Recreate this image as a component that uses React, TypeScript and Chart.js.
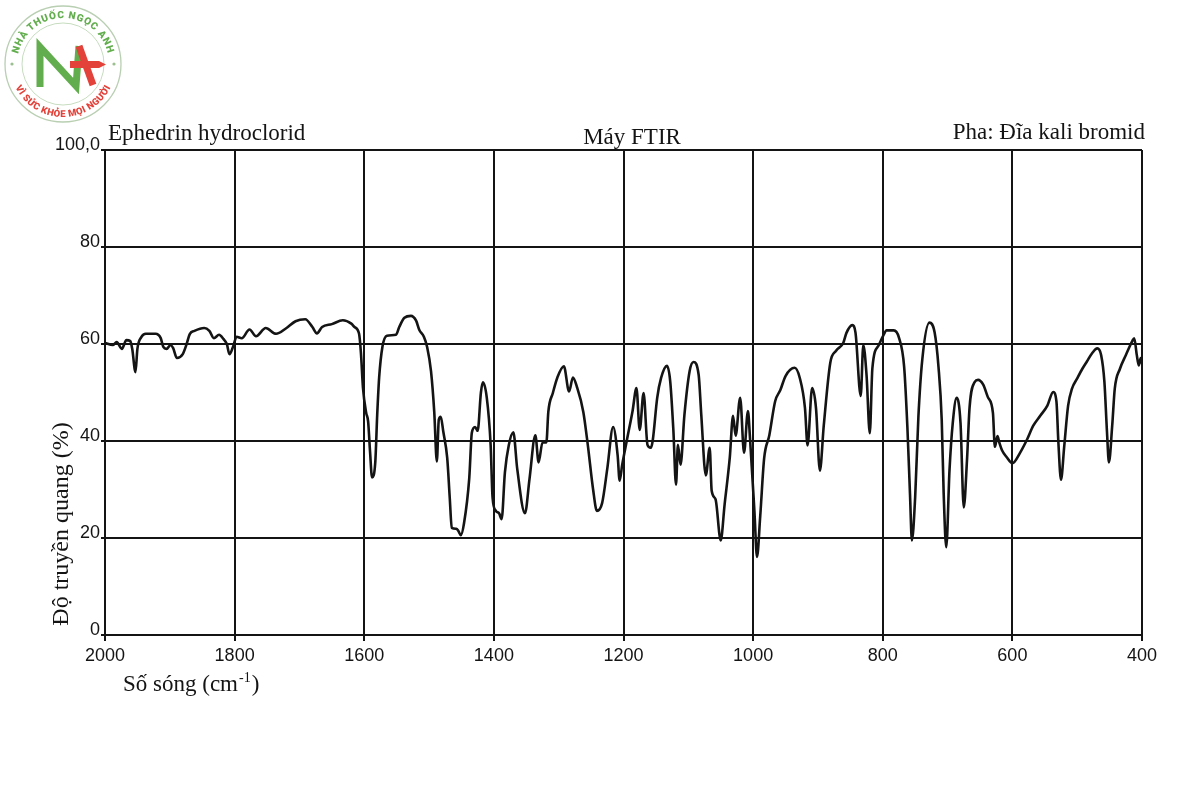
import React, { useEffect, useRef } from "react";
import { Chart, registerables } from "chart.js";

Chart.register(...registerables);

// Wavenumber (cm-1)
const wavenumbers = [
  2000, 1988, 1982, 1974, 1967, 1961, 1958, 1953, 1950, 1944, 1937, 1922, 1914, 1910, 1905, 1899, 1895, 1889,
  1880, 1875, 1869, 1862, 1847, 1839, 1832, 1824, 1817, 1812, 1808, 1802, 1797, 1789, 1777, 1767, 1752, 1736,
  1721, 1706, 1691, 1680, 1673, 1665, 1650, 1633, 1620,
  1615, 1608, 1605, 1602, 1597, 1594, 1591, 1588, 1583, 1580, 1577, 1572, 1565, 1551, 1546, 1538, 1528, 1520,
  1515, 1508, 1503, 1497, 1492, 1488, 1485, 1482, 1478, 1472, 1468, 1465, 1458, 1455, 1451, 1446, 1438, 1434,
  1429, 1425, 1420, 1417, 1411, 1405, 1402,
  1397, 1392, 1388, 1383, 1377, 1370, 1364, 1352, 1345, 1336, 1331, 1325, 1319, 1316, 1309, 1302, 1292, 1284,
  1278, 1272, 1262, 1255, 1247, 1241, 1233, 1225, 1216, 1209, 1206,
  1202, 1194, 1186, 1180, 1175, 1169, 1163, 1158, 1155, 1148, 1142, 1133, 1128, 1123, 1119, 1116, 1112, 1106,
  1098, 1092, 1084, 1080, 1073, 1067, 1064, 1058, 1050, 1044, 1036, 1031, 1027, 1020, 1014, 1008, 1005,
  998, 994, 989, 983, 975, 966, 958, 950, 936, 928, 920, 916, 909, 903, 897, 891, 881, 872, 861, 856, 847, 842,
  834, 830, 825, 820, 816, 806,
  800, 794, 783, 775, 767, 762, 758, 755, 750, 745, 739, 728, 720, 714, 709, 706, 702, 697, 692, 686, 680, 675,
  670, 666, 658, 653, 645, 638, 630, 627, 623, 620, 616, 609, 600,
  588, 577, 568, 557, 546, 537, 532, 529, 525, 520, 514, 508, 500, 492, 485, 477, 469, 463, 458, 454, 451, 446,
  442, 434, 425, 415, 412, 408, 405, 402, 400,
];

// Transmittance (%)
const transmittance = [
  60.2, 59.8, 60.4, 59.0, 60.8, 60.6, 59.0, 54.2, 59.0, 61.4, 62.1, 62.1, 61.2, 59.4, 59.0, 59.8, 59.2, 57.1,
  57.9, 59.6, 62.1, 62.7, 63.3, 62.7, 61.2, 61.9, 61.0, 60.0, 57.9, 59.6, 61.5, 61.2, 63.0, 61.6, 63.3, 62.1,
  63.2, 64.7, 65.1, 63.5, 62.2, 63.5, 64.1, 64.9, 64.2,
  63.5, 62.1, 57.9, 51.0, 45.8, 44.0, 37.7, 32.5, 35.6, 45.4, 53.1, 59.4, 61.7, 61.9, 63.5, 65.4, 65.8, 64.8,
  62.9, 61.5, 59.4, 54.4, 46.0, 35.8, 44.4, 45.0, 41.9, 36.5, 28.1, 22.1, 21.9, 21.5, 20.6, 23.1, 32.3, 41.7,
  42.9, 42.1, 50.0, 52.1, 49.0, 39.2, 28.3,
  25.6, 25.1, 23.9, 33.5, 39.1, 41.8, 34.3, 25.1, 32.2, 41.2, 35.6, 39.7, 39.7, 46.0, 49.9, 53.1, 55.4, 50.2,
  53.1, 51.2, 46.0, 39.1, 30.1, 25.6, 27.2, 34.3, 42.9, 37.0, 31.8,
  35.1, 40.7, 46.2, 50.9, 42.3, 49.9, 39.2, 38.6, 40.0, 48.9, 53.0, 55.5, 52.4, 42.1, 31.0, 39.2, 35.1, 45.4,
  54.4, 56.3, 53.6, 45.4, 32.9, 38.6, 29.8, 28.0, 19.5, 26.9, 36.6, 45.2, 41.1, 48.9, 37.6, 46.2, 41.0,
  25.5, 16.1, 24.6, 36.4, 41.2, 48.2, 50.5, 53.4, 55.1, 53.0, 46.8, 39.1, 50.9, 46.8, 33.9, 43.2, 56.1, 58.6,
  60.2, 62.3, 63.9, 62.3, 49.3, 59.8, 53.6, 41.6, 55.0, 59.8,
  61.5, 62.8, 62.8, 61.3, 55.3, 42.9, 29.2, 19.5, 28.4, 45.0, 56.8, 64.4, 62.4, 55.3, 44.3, 29.2, 18.1, 34.0,
  43.7, 48.9, 43.7, 26.3, 36.1, 47.0, 52.2, 52.6, 51.6, 49.1, 45.8, 38.8, 41.0, 39.6, 38.1, 36.7, 35.4,
  37.6, 40.4, 43.1, 45.2, 47.3, 50.1, 48.1, 39.7, 32.0, 38.9, 47.3, 50.8, 52.9, 54.9, 56.4, 58.1, 59.1, 57.7,
  52.2, 41.8, 35.6, 43.1, 50.8, 54.9, 57.7, 60.6, 61.2, 57.7, 55.6, 57.1, 56.0,
];

const xTickValues = [2000, 1800, 1600, 1400, 1200, 1000, 800, 600, 400];
const yTickValues = [0, 20, 40, 60, 80, 100];
const yTickLabels = ["0", "20", "40", "60", "80", "100,0"];

const titleLeft = "Ephedrin hydroclorid";
const titleCenter = "Máy FTIR";
const titleRight = "Pha: Đĩa kali bromid";
const yAxisTitle = "Độ truyền quang (%)";
const xAxisTitleMain = "Số sóng (cm";
const xAxisTitleSup = "-1";
const xAxisTitleEnd = ")";

const logoTop = "NHÀ THUỐC NGỌC ANH";
const logoBottom = "VÌ SỨC KHỎE MỌI NGƯỜI";

const INK = "#141414";
const SERIF = "'Liberation Serif', 'Times New Roman', serif";
const SANS = "'Liberation Sans', Arial, sans-serif";

const textPlugin = {
  id: "textPlugin",
  afterDraw(chart: any) {
    const ctx = chart.ctx as CanvasRenderingContext2D;
    ctx.save();
    ctx.fillStyle = INK;
    ctx.font = `23px ${SERIF}`;
    ctx.textBaseline = "alphabetic";
    ctx.textAlign = "left";
    ctx.fillText(titleLeft, 108, 140);
    ctx.textAlign = "center";
    ctx.fillText(titleCenter, 632, 144);
    ctx.textAlign = "right";
    ctx.fillText(titleRight, 1145, 139);

    // x axis title with superscript
    ctx.textAlign = "left";
    ctx.font = `23px ${SERIF}`;
    let x = 123;
    const by = 691;
    ctx.fillText(xAxisTitleMain, x, by);
    x += ctx.measureText(xAxisTitleMain).width + 1;
    ctx.font = `14px ${SERIF}`;
    ctx.fillText(xAxisTitleSup, x, by - 9);
    x += ctx.measureText(xAxisTitleSup).width + 1;
    ctx.font = `23px ${SERIF}`;
    ctx.fillText(xAxisTitleEnd, x, by);

    // y axis title
    ctx.translate(62, 524);
    ctx.rotate(-Math.PI / 2);
    ctx.textAlign = "center";
    ctx.textBaseline = "middle";
    ctx.font = `24px ${SERIF}`;
    ctx.fillText(yAxisTitle, 0, 0);
    ctx.restore();
  },
};

function Logo() {
  const green = "#62ad4d";
  const red = "#e2423a";
  return (
    <svg
      width={122}
      height={122}
      viewBox="0 0 122 122"
      style={{ position: "absolute", left: 2, top: 3 }}
    >
      <defs>
        <path id="logoTopArc" d="M 15,61 A 46,46 0 0 1 107,61" />
        <path id="logoBotArc" d="M 8,61 A 53,53 0 0 0 114,61" />
      </defs>
      <circle cx={61} cy={61} r={58} fill="none" stroke="#b9cfb2" strokeWidth={1.3} />
      <circle cx={61} cy={61} r={41} fill="none" stroke="#c6dcbf" strokeWidth={1} />
      <circle cx={10} cy={61} r={1.6} fill="#9bbf8f" />
      <circle cx={112} cy={61} r={1.6} fill="#9bbf8f" />
      <text fontFamily="Roboto, 'Liberation Sans', sans-serif" fontWeight={900} fontSize={10} fill={green} letterSpacing={0.8}>
        <textPath href="#logoTopArc" startOffset="50%" textAnchor="middle">
          {logoTop}
        </textPath>
      </text>
      <text fontFamily="Roboto, 'Liberation Sans', sans-serif" fontWeight={900} fontSize={9.5} fill={red} letterSpacing={0.4}>
        <textPath href="#logoBotArc" startOffset="50%" textAnchor="middle">
          {logoBottom}
        </textPath>
      </text>
      <polyline
        points="38,84 38,44 74,83 77,43"
        fill="none"
        stroke={green}
        strokeWidth={7}
        strokeLinejoin="miter"
      />
      <polyline points="77,43 91,82" fill="none" stroke={red} strokeWidth={7} />
      <polygon points="68,58 97,58 104,61.5 97,65 68,65" fill={red} />
    </svg>
  );
}

export default function App() {
  const canvasRef = useRef<HTMLCanvasElement | null>(null);

  useEffect(() => {
    const canvas = canvasRef.current;
    if (!canvas) return;
    const points = wavenumbers.map((w, i) => ({ x: w, y: transmittance[i] }));
    const chart = new Chart(canvas, {
      type: "line",
      data: {
        datasets: [
          {
            data: points,
            borderColor: INK,
            borderWidth: 2.6,
            pointRadius: 0,
            fill: false,
            cubicInterpolationMode: "monotone",
          },
        ],
      },
      options: {
        responsive: false,
        animation: false,
        events: [],
        layout: { padding: { left: 0, top: 150, right: 58, bottom: 0 } },
        plugins: {
          legend: { display: false },
          tooltip: { enabled: false },
          title: { display: false },
        },
        scales: {
          x: {
            type: "linear",
            reverse: true,
            min: 400,
            max: 2000,
            afterBuildTicks: (scale: any) => {
              scale.ticks = xTickValues.map((v) => ({ value: v }));
            },
            afterFit: (scale: any) => {
              scale.height = 165;
            },
            grid: { color: INK, lineWidth: 2, tickLength: 6, tickColor: INK, tickWidth: 2 },
            border: { color: INK, width: 2 },
            ticks: {
              color: INK,
              font: { family: SANS, size: 18 },
              padding: 4,
              maxRotation: 0,
              autoSkip: false,
              callback: (v: any) => String(v),
            },
          },
          y: {
            type: "linear",
            min: 0,
            max: 100,
            afterBuildTicks: (scale: any) => {
              scale.ticks = yTickValues.map((v) => ({ value: v }));
            },
            afterFit: (scale: any) => {
              scale.width = 105;
            },
            grid: { color: INK, lineWidth: 2, tickLength: 4, tickColor: INK, tickWidth: 2 },
            border: { color: INK, width: 2 },
            ticks: {
              color: INK,
              font: { family: SANS, size: 18 },
              padding: 1,
              labelOffset: -5,
              autoSkip: false,
              callback: (v: any) => {
                const idx = yTickValues.indexOf(Number(v));
                return idx >= 0 ? yTickLabels[idx] : "";
              },
            },
          },
        },
      },
      plugins: [textPlugin],
    });
    return () => chart.destroy();
  }, []);

  return (
    <div
      style={{
        position: "fixed",
        left: 0,
        top: 0,
        width: 1200,
        height: 800,
        background: "#ffffff",
        overflow: "hidden",
      }}
    >
      <canvas ref={canvasRef} width={1200} height={800} style={{ position: "absolute", left: 0, top: 0 }} />
      <Logo />
    </div>
  );
}
